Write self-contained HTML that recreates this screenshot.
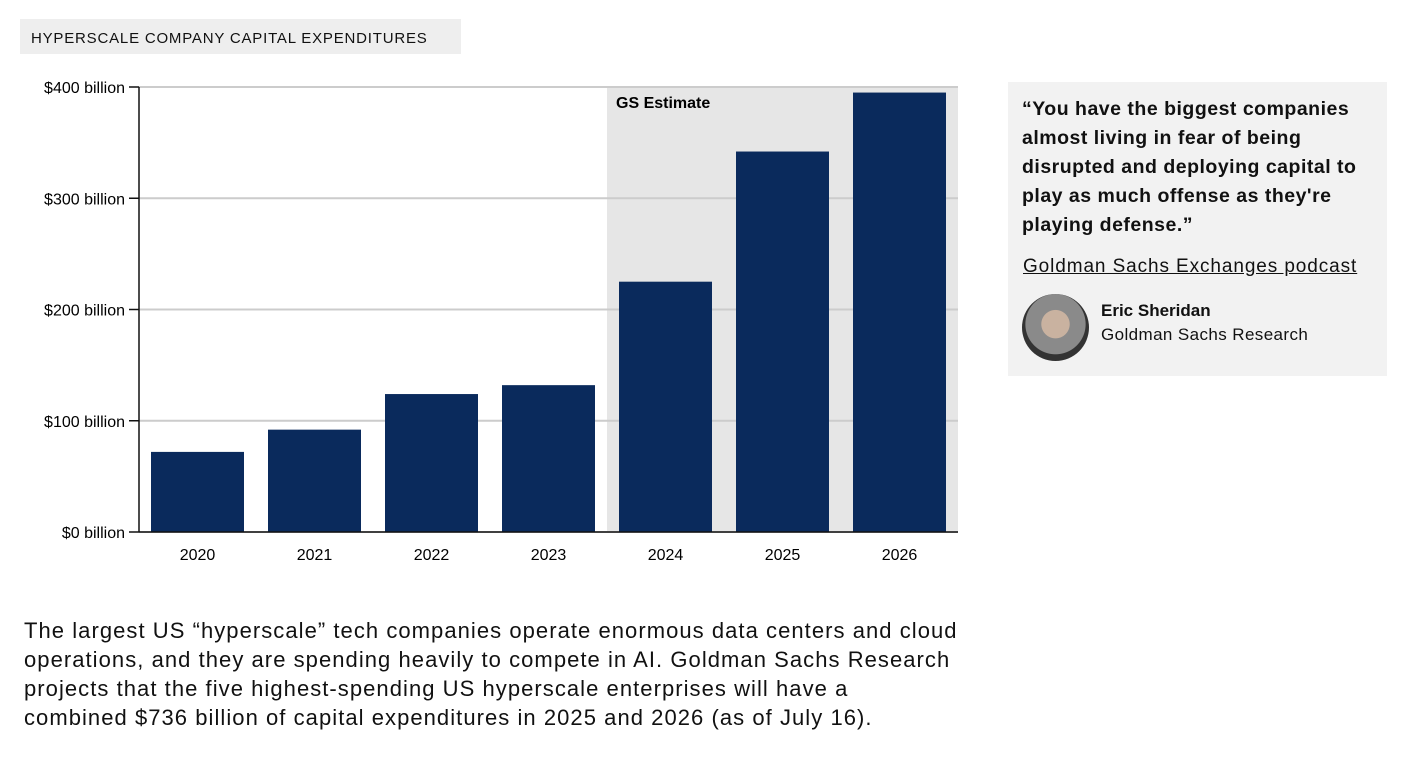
<!DOCTYPE html>
<html><head><meta charset="utf-8"><style>
body{margin:0;width:1426px;height:772px;background:#fff;font-family:"Liberation Sans",sans-serif;color:#111;position:relative;overflow:hidden}
.title{position:absolute;left:20px;top:19px;width:441px;height:35px;background:#eeeeee;font-size:15px;letter-spacing:0.8px;line-height:39px;padding-left:11px;box-sizing:border-box;font-weight:500}
.quote{position:absolute;left:1008px;top:82px;width:379px;height:294px;background:#f2f2f2}
.qt{position:absolute;left:14px;top:13px;width:370px;font-size:19.5px;font-weight:bold;line-height:29px;white-space:nowrap;letter-spacing:0.5px}
.src{position:absolute;left:15px;top:174px;font-size:19px;text-decoration:underline;letter-spacing:0.9px}
.name{position:absolute;left:93px;top:219px;font-size:17px;font-weight:bold}
.org{position:absolute;left:93px;top:243px;font-size:17px;letter-spacing:0.4px}
.av{position:absolute;left:14px;top:212px;width:67px;height:67px;border-radius:50%;background:radial-gradient(circle at 50% 45%,#c9b2a0 0 28%,#8a8a8a 29% 60%,#333 61%)}
.body{position:absolute;left:24px;top:616px;width:980px;font-size:22px;line-height:29px;white-space:nowrap;letter-spacing:1.05px}
</style></head><body>
<div class="title">HYPERSCALE COMPANY CAPITAL EXPENDITURES</div>
<svg id="chart" width="1000" height="580" style="position:absolute;left:0;top:0"></svg>
<div class="quote">
<div class="qt">“You have the biggest companies<br>almost living in fear of being<br>disrupted and deploying capital to<br>play as much offense as they're<br>playing defense.”</div>
<div class="src">Goldman Sachs Exchanges podcast</div>
<div class="av"></div>
<div class="name">Eric Sheridan</div>
<div class="org">Goldman Sachs Research</div>
</div>
<div class="body">The largest US “hyperscale” tech companies operate enormous data centers and cloud<br>operations, and they are spending heavily to compete in AI. Goldman Sachs Research<br>projects that the five highest-spending US hyperscale enterprises will have a<br>combined $736 billion of capital expenditures in 2025 and 2026 (as of July 16).</div>
<script>
const categories=["2020","2021","2022","2023","2024","2025","2026"];
const values=[72,92,124,132,225,342,395];
const yTicks=[0,100,200,300,400];
const estimateStart="2024";
const ns="http://www.w3.org/2000/svg";
const svg=document.getElementById('chart');
const x0=139,x1=958,y0=532,y1=87,ymax=400;
const band=(x1-x0)/categories.length;
const y=v=>y0-(v/ymax)*(y0-y1);
const xb=i=>x0+i*band;
function mk(t,a,txt){const e=document.createElementNS(ns,t);for(const k in a)e.setAttribute(k,a[k]);if(txt!=null)e.textContent=txt;svg.appendChild(e);return e;}
const si=categories.indexOf(estimateStart);
let e=mk('rect',{x:xb(si),y:y1,width:x1-xb(si),height:y0-y1,fill:'#e6e6e6'});


e=mk('text',{x:xb(si)+9,y:y1+21,'font-size':16,'font-weight':'bold','font-family':'Liberation Sans'},'GS Estimate');


yTicks.forEach(t=>{
 const g=mk('line',{x1:x0,x2:x1,y1:y(t),y2:y(t),stroke:'#cccccc','stroke-width':2});
 
 
 const tk=mk('line',{x1:x0-10,x2:x0,y1:y(t),y2:y(t),stroke:'#111','stroke-width':1.5});
 
 
 const l=mk('text',{x:x0-14,y:y(t)+6,'text-anchor':'end','font-size':16,'font-family':'Liberation Sans'},'$'+t+' billion');
 
 
});
categories.forEach((c,i)=>{
 const r=mk('rect',{x:xb(i)+12,y:y(values[i]),width:band-24,height:y0-y(values[i]),fill:'#0a2a5c'});
 
 
 const l=mk('text',{x:xb(i)+band/2,y:y0+28,'text-anchor':'middle','font-size':16,'font-family':'Liberation Sans'},c);
 
 
});
e=mk('line',{x1:x0,x2:x0,y1:y1,y2:y0,stroke:'#111','stroke-width':1.5});


e=mk('line',{x1:x0,x2:x1,y1:y0,y2:y0,stroke:'#111','stroke-width':1.5});


</script>
</body></html>
